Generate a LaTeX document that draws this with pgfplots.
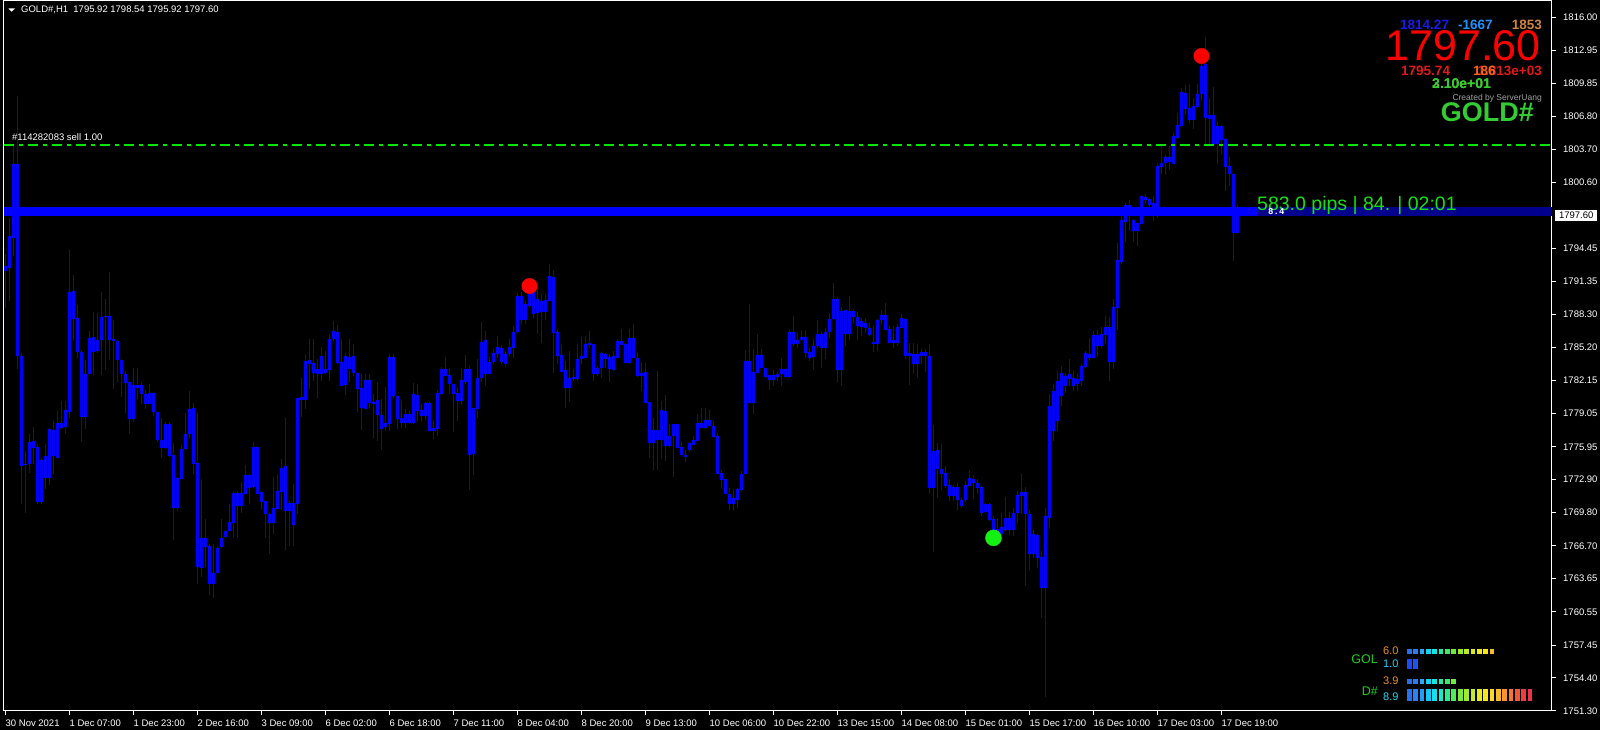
\documentclass[border=0pt]{standalone}
\usepackage{fontspec}
\setmainfont{Liberation Sans}
\newfontfamily\monofont{Liberation Mono}
\usepackage{pgfplots}
\usepackage{pgfplotstable}
\pgfplotsset{compat=1.18}
\definecolor{candle}{RGB}{0,0,255}
\definecolor{navyband}{RGB}{0,0,140}
\definecolor{mtgreen}{RGB}{50,205,50}
\definecolor{ordergreen}{RGB}{0,230,0}
\definecolor{green2}{RGB}{110,200,40}
\definecolor{pipsgreen}{RGB}{20,225,20}
\definecolor{dotgreen}{RGB}{20,240,20}
\definecolor{dodger}{RGB}{30,144,255}
\definecolor{peru}{RGB}{205,133,63}
\definecolor{blue1814}{RGB}{25,25,235}
\definecolor{red2}{RGB}{225,25,25}
\definecolor{orange186}{RGB}{250,100,20}
\definecolor{gray160}{RGB}{160,160,160}
\definecolor{lblorange}{RGB}{240,145,20}
\definecolor{lblcyan}{RGB}{30,215,245}
\definecolor{indgreen}{RGB}{30,205,30}

\pgfplotstableread{
x h l t b
0 1793.94 1788.90 1792.81 1792.35
1 1797.29 1789.56 1795.61 1792.63
2 1804.20 1793.75 1802.33 1795.43
3 1808.68 1783.22 1802.33 1784.43
4 1784.71 1770.62 1784.43 1774.17
5 1775.57 1769.78 1774.35 1774.21
6 1777.15 1773.51 1776.41 1774.35
7 1777.80 1774.35 1776.50 1775.85
8 1776.22 1770.62 1775.94 1770.81
9 1774.91 1770.62 1774.73 1770.81
10 1776.22 1772.02 1775.10 1773.05
11 1777.71 1772.39 1777.62 1773.05
12 1778.36 1773.42 1777.52 1775.10
13 1779.39 1774.91 1778.18 1774.91
14 1780.23 1777.62 1778.18 1777.71
15 1780.23 1777.15 1779.39 1777.80
16 1794.31 1778.64 1790.40 1779.20
17 1791.98 1785.83 1790.49 1787.88
18 1789.19 1784.24 1787.97 1784.80
19 1784.99 1776.41 1784.80 1778.74
20 1784.06 1777.62 1782.75 1778.74
21 1786.76 1782.75 1786.11 1782.75
22 1788.53 1782.66 1786.20 1784.80
23 1788.44 1784.71 1785.92 1784.90
24 1790.40 1782.66 1788.07 1785.92
25 1789.75 1783.12 1788.16 1788.07
26 1792.26 1784.06 1788.16 1785.92
27 1787.79 1781.35 1786.01 1785.83
28 1785.92 1782.01 1785.83 1784.06
29 1784.15 1780.60 1784.06 1782.75
30 1783.03 1779.11 1782.75 1781.91
31 1782.01 1777.15 1782.01 1778.55
32 1783.31 1778.27 1781.72 1778.55
33 1783.31 1780.42 1781.72 1781.44
34 1782.01 1779.95 1781.72 1780.88
35 1781.25 1779.48 1780.88 1779.95
36 1781.82 1779.95 1780.97 1779.95
37 1780.97 1778.83 1780.97 1779.20
38 1779.20 1776.41 1779.20 1776.59
39 1778.64 1774.91 1776.59 1775.85
40 1778.27 1775.76 1778.08 1775.85
41 1778.27 1775.01 1778.08 1775.10
42 1776.31 1767.26 1775.19 1770.25
43 1773.14 1769.97 1773.05 1770.25
44 1776.13 1772.95 1775.76 1772.95
45 1779.11 1775.66 1777.15 1775.76
46 1781.16 1776.78 1779.48 1777.15
47 1780.04 1773.42 1779.58 1774.35
48 1779.11 1763.16 1774.44 1764.74
49 1772.95 1763.81 1767.45 1764.65
50 1769.22 1764.74 1767.45 1766.61
51 1766.89 1762.13 1766.70 1763.16
52 1766.89 1761.85 1764.18 1763.16
53 1766.70 1764.18 1766.52 1764.18
54 1769.22 1766.52 1767.45 1766.61
55 1768.19 1767.45 1768.10 1767.54
56 1770.62 1768.10 1768.94 1768.10
57 1771.74 1767.54 1771.65 1768.85
58 1771.83 1767.45 1771.65 1770.43
59 1772.67 1769.78 1771.65 1770.43
60 1774.26 1771.55 1773.32 1771.55
61 1773.42 1770.62 1773.32 1772.11
62 1776.41 1772.11 1775.94 1772.21
63 1775.94 1771.55 1775.94 1771.55
64 1771.83 1770.15 1771.74 1770.81
65 1770.90 1767.45 1770.90 1769.69
66 1769.78 1765.95 1769.69 1768.85
67 1773.14 1767.82 1770.25 1768.85
68 1773.32 1770.15 1771.83 1770.15
69 1774.82 1770.06 1773.98 1771.74
70 1778.64 1766.33 1774.17 1769.97
71 1770.90 1766.70 1770.71 1769.97
72 1772.48 1766.70 1770.71 1768.66
73 1780.51 1769.69 1780.51 1770.62
74 1782.38 1778.74 1780.60 1780.32
75 1784.62 1779.48 1783.96 1780.32
76 1786.01 1781.35 1784.06 1783.68
77 1786.01 1782.10 1783.78 1782.85
78 1784.15 1780.51 1783.22 1782.75
79 1785.27 1782.10 1784.43 1782.75
80 1784.90 1782.75 1783.22 1782.85
81 1786.48 1782.10 1786.01 1783.12
82 1787.69 1785.83 1786.76 1786.01
83 1787.32 1783.68 1786.67 1783.78
84 1786.01 1781.63 1783.87 1781.63
85 1784.71 1780.79 1784.43 1781.72
86 1786.01 1782.01 1784.34 1783.22
87 1785.55 1782.57 1784.43 1782.85
88 1782.85 1779.20 1782.85 1781.35
89 1782.75 1777.52 1781.44 1779.58
90 1782.75 1779.48 1782.19 1779.48
91 1782.75 1779.48 1782.19 1780.04
92 1780.88 1776.78 1780.14 1779.95
93 1782.01 1776.50 1780.32 1778.92
94 1780.42 1775.66 1778.92 1777.62
95 1781.54 1777.43 1778.18 1777.80
96 1784.62 1777.43 1784.34 1778.08
97 1784.62 1780.51 1784.34 1780.69
98 1780.69 1777.62 1780.69 1778.55
99 1780.23 1777.71 1778.64 1778.18
100 1779.48 1777.71 1779.02 1778.18
101 1779.30 1778.08 1779.02 1778.18
102 1781.91 1778.08 1780.88 1778.18
103 1781.82 1778.36 1780.79 1779.30
104 1779.95 1778.27 1779.39 1778.83
105 1780.14 1778.55 1780.04 1778.83
106 1780.23 1777.43 1780.04 1777.43
107 1778.36 1776.69 1777.71 1777.43
108 1781.25 1776.96 1780.97 1777.62
109 1783.40 1780.79 1783.22 1780.88
110 1784.34 1782.57 1783.22 1782.57
111 1783.31 1780.88 1782.66 1781.82
112 1781.82 1777.34 1781.82 1780.88
113 1781.44 1778.36 1780.97 1780.23
114 1783.22 1779.86 1782.19 1780.23
115 1784.52 1781.82 1783.22 1782.01
116 1783.49 1771.93 1783.22 1775.19
117 1779.58 1773.32 1779.58 1775.29
118 1784.15 1778.64 1782.38 1779.48
119 1787.60 1782.01 1785.73 1782.38
120 1786.76 1781.63 1785.92 1782.75
121 1784.34 1782.75 1783.87 1782.75
122 1785.08 1783.68 1784.71 1783.87
123 1786.29 1784.24 1785.27 1784.62
124 1785.45 1783.68 1785.17 1783.87
125 1784.90 1783.40 1784.62 1783.68
126 1786.01 1784.43 1785.27 1784.62
127 1787.23 1784.24 1786.67 1785.17
128 1790.30 1786.57 1790.02 1786.67
129 1790.40 1787.51 1790.02 1787.79
130 1789.56 1787.41 1789.28 1787.79
131 1791.23 1788.90 1790.30 1789.09
132 1791.14 1787.97 1791.14 1788.34
133 1791.42 1786.48 1789.75 1788.44
134 1790.21 1785.64 1789.56 1788.53
135 1790.21 1787.79 1789.65 1788.53
136 1793.00 1789.56 1791.89 1789.56
137 1792.45 1782.85 1791.79 1786.57
138 1786.95 1783.68 1786.67 1784.43
139 1785.45 1782.94 1784.52 1782.94
140 1783.96 1779.58 1783.12 1781.44
141 1784.90 1780.14 1782.38 1781.44
142 1783.22 1782.10 1782.47 1782.29
143 1785.55 1782.10 1784.15 1782.29
144 1786.20 1783.68 1784.43 1784.15
145 1786.29 1784.24 1785.55 1784.24
146 1786.76 1785.17 1785.64 1785.45
147 1785.55 1782.10 1785.55 1782.75
148 1783.49 1782.57 1783.31 1782.75
149 1784.80 1782.38 1784.71 1783.31
150 1784.71 1783.31 1784.62 1784.15
151 1784.62 1782.01 1784.34 1783.22
152 1784.90 1783.03 1784.43 1783.12
153 1786.01 1784.24 1785.83 1784.24
154 1786.95 1785.45 1785.83 1785.45
155 1785.64 1783.78 1785.55 1783.78
156 1786.95 1783.68 1786.11 1783.78
157 1787.41 1784.24 1786.11 1784.24
158 1784.80 1782.47 1784.24 1782.57
159 1783.87 1781.16 1782.85 1782.57
160 1783.78 1780.04 1782.94 1780.04
161 1780.14 1774.91 1780.14 1776.31
162 1778.64 1773.79 1777.52 1776.31
163 1783.03 1773.79 1777.52 1776.59
164 1780.23 1774.82 1779.39 1776.59
165 1780.79 1774.63 1779.30 1776.03
166 1778.08 1775.94 1776.96 1776.03
167 1778.08 1773.14 1778.08 1776.96
168 1778.08 1775.85 1778.08 1775.85
169 1776.41 1775.19 1775.94 1775.19
170 1775.66 1774.54 1775.19 1775.01
171 1776.41 1775.47 1776.31 1775.66
172 1776.96 1776.13 1776.59 1776.13
173 1779.02 1776.50 1778.18 1776.50
174 1779.58 1777.71 1778.18 1777.71
175 1779.58 1777.62 1778.46 1777.71
176 1779.39 1777.90 1778.46 1777.90
177 1778.36 1776.78 1777.90 1776.87
178 1777.24 1773.42 1776.96 1773.42
179 1773.79 1772.11 1773.51 1772.86
180 1772.95 1771.55 1772.95 1771.55
181 1772.11 1770.06 1771.55 1770.62
182 1772.02 1769.97 1771.18 1770.62
183 1772.11 1770.25 1772.02 1770.99
184 1773.70 1771.83 1773.42 1771.93
185 1784.99 1773.42 1783.96 1773.42
186 1789.28 1780.04 1783.96 1780.04
187 1785.08 1779.02 1782.94 1780.04
188 1786.48 1782.85 1784.52 1782.85
189 1785.08 1783.31 1784.52 1783.31
190 1783.31 1782.38 1783.31 1782.47
191 1782.66 1781.25 1782.66 1782.19
192 1783.12 1781.63 1782.66 1782.19
193 1782.94 1782.10 1782.75 1782.47
194 1784.24 1781.63 1783.22 1782.75
195 1783.22 1782.38 1783.22 1782.47
196 1786.85 1782.38 1786.67 1782.47
197 1788.16 1785.36 1786.67 1785.55
198 1786.57 1785.17 1785.92 1785.55
199 1786.85 1785.83 1786.20 1785.92
200 1786.85 1784.24 1786.20 1784.71
201 1785.17 1783.96 1784.80 1784.24
202 1786.01 1783.12 1785.36 1784.34
203 1787.79 1785.17 1786.48 1785.36
204 1786.76 1783.31 1786.48 1785.17
205 1787.04 1784.15 1786.67 1785.17
206 1788.44 1786.11 1787.88 1786.67
207 1791.23 1787.79 1789.75 1787.88
208 1789.93 1782.01 1789.75 1783.12
209 1789.00 1781.63 1788.63 1783.12
210 1788.72 1785.36 1788.72 1786.48
211 1790.02 1785.92 1788.63 1786.48
212 1788.81 1787.51 1788.63 1788.07
213 1788.53 1785.92 1788.07 1787.23
214 1787.97 1786.29 1787.69 1787.13
215 1787.97 1786.57 1787.51 1787.04
216 1787.51 1786.29 1787.04 1786.39
217 1787.23 1784.80 1785.73 1785.55
218 1787.88 1784.90 1787.79 1785.55
219 1788.72 1787.32 1788.25 1787.79
220 1789.37 1786.85 1788.25 1786.85
221 1787.23 1785.64 1786.95 1785.64
222 1787.23 1785.17 1785.92 1785.64
223 1787.41 1785.36 1787.13 1785.64
224 1788.34 1787.04 1787.97 1787.04
225 1787.97 1784.15 1787.88 1784.43
226 1785.64 1781.72 1784.71 1784.43
227 1785.64 1782.75 1784.62 1783.68
228 1785.55 1782.38 1784.62 1783.68
229 1785.08 1783.68 1784.80 1784.43
230 1785.08 1782.94 1784.80 1784.43
231 1785.55 1771.55 1784.43 1772.11
232 1777.99 1766.14 1775.57 1772.11
233 1776.31 1771.18 1775.66 1773.88
234 1776.22 1771.93 1773.88 1773.42
235 1774.17 1772.11 1773.51 1772.30
236 1772.95 1770.90 1772.39 1771.36
237 1772.39 1770.90 1772.21 1771.36
238 1772.58 1770.06 1772.21 1770.99
239 1771.18 1770.25 1770.99 1770.43
240 1772.76 1770.81 1772.39 1770.99
241 1773.79 1772.21 1773.05 1772.30
242 1773.32 1771.08 1772.95 1772.58
243 1772.95 1771.55 1772.58 1772.11
244 1772.30 1769.50 1772.21 1769.78
245 1770.71 1769.78 1770.62 1769.87
246 1770.71 1769.03 1770.62 1769.13
247 1769.50 1767.63 1769.22 1767.82
248 1769.31 1767.45 1768.29 1767.82
249 1769.78 1767.73 1768.47 1767.82
250 1771.27 1768.10 1769.31 1768.19
251 1769.87 1767.73 1769.31 1768.19
252 1770.25 1767.63 1769.78 1768.19
253 1771.83 1768.85 1771.46 1769.78
254 1773.42 1769.69 1771.74 1771.36
255 1772.21 1762.97 1771.74 1769.69
256 1770.06 1764.46 1769.69 1765.95
257 1768.29 1765.58 1767.82 1765.95
258 1767.82 1764.65 1767.73 1765.58
259 1766.24 1759.98 1765.67 1762.78
260 1770.25 1752.61 1769.50 1762.78
261 1780.88 1768.29 1779.76 1769.31
262 1781.82 1776.50 1781.16 1777.43
263 1783.03 1777.43 1782.10 1778.36
264 1783.49 1779.76 1782.85 1780.69
265 1782.85 1780.97 1782.57 1781.63
266 1784.15 1781.63 1782.75 1782.29
267 1783.03 1781.16 1782.38 1781.63
268 1782.85 1781.16 1782.29 1781.82
269 1783.68 1781.63 1783.49 1782.10
270 1784.90 1783.31 1784.71 1783.40
271 1786.11 1783.96 1784.62 1784.24
272 1786.76 1784.24 1786.39 1784.24
273 1786.85 1784.43 1786.39 1785.36
274 1787.13 1785.17 1786.48 1785.36
275 1788.16 1785.64 1787.13 1786.39
276 1788.07 1782.10 1787.13 1783.87
277 1789.75 1783.22 1789.00 1783.87
278 1794.98 1786.85 1793.37 1788.90
279 1797.95 1793.00 1797.11 1793.18
280 1798.69 1795.06 1798.51 1796.92
281 1798.98 1796.18 1798.51 1797.76
282 1797.20 1795.06 1797.11 1796.08
283 1796.83 1794.69 1796.83 1796.08
284 1799.44 1796.73 1799.35 1796.73
285 1799.54 1798.60 1799.25 1798.98
286 1799.16 1797.67 1799.07 1798.51
287 1799.35 1797.02 1798.69 1798.32
288 1802.43 1797.29 1802.15 1798.32
289 1804.20 1801.40 1802.43 1802.06
290 1803.27 1801.31 1802.99 1802.43
291 1804.01 1801.77 1802.99 1802.52
292 1805.23 1802.33 1804.95 1802.33
293 1807.09 1804.67 1805.97 1804.76
294 1809.42 1805.79 1809.05 1805.88
295 1809.70 1807.00 1808.96 1807.46
296 1809.80 1806.16 1807.56 1806.44
297 1808.49 1805.60 1807.75 1806.44
298 1809.80 1807.56 1808.86 1807.65
299 1811.76 1808.21 1811.48 1808.86
300 1814.18 1804.20 1811.66 1806.63
301 1808.49 1804.01 1806.91 1806.53
302 1809.52 1804.20 1806.91 1804.20
303 1806.35 1802.33 1805.88 1804.20
304 1805.97 1803.27 1805.88 1804.57
305 1804.76 1799.82 1804.67 1802.06
306 1803.00 1800.28 1802.15 1801.40
307 1801.40 1793.29 1801.40 1795.90
308 1798.54 1795.92 1797.60 1795.92
}\candles

\begin{document}
\begin{tikzpicture}[x=1pt,y=1pt]
\fill[black] (0,0) rectangle (1600,730);
\useasboundingbox (0,0) rectangle (1600,730);
\begin{axis}[
  at={(4pt,19pt)}, anchor=south west,
  scale only axis, width=1548pt, height=710pt,
  xmin=-0.375, xmax=386.625, ymin=1751.30, ymax=1817.54,
  axis line style={white, line width=1pt},
  tick style={white, line width=1pt},
  major tick length=4pt, tick align=outside,
  xtick pos=left, ytick pos=right,
  xticklabel pos=left, yticklabel pos=right,
  tick label style={font=\fontsize{9.5}{11}\selectfont, text=white},
  yticklabel style={anchor=west, inner sep=0pt, xshift=7pt},
  xticklabel style={anchor=north west, inner sep=0pt, xshift=0pt, yshift=-5pt},
  xtick={0,16,32,48,64,80,96,112,128,144,160,176,192,208,224,240,256,272,288,304},
  xticklabels={30 Nov 2021, 1 Dec 07:00, 1 Dec 23:00, 2 Dec 16:00, 3 Dec 09:00, 6 Dec 02:00, 6 Dec 18:00, 7 Dec 11:00, 8 Dec 04:00, 8 Dec 20:00, 9 Dec 13:00, 10 Dec 06:00, 10 Dec 22:00, 13 Dec 15:00, 14 Dec 08:00, 15 Dec 01:00, 15 Dec 17:00, 16 Dec 10:00, 17 Dec 03:00, 17 Dec 19:00},
  ytick={1751.30,1754.40,1757.45,1760.55,1763.65,1766.70,1769.80,1772.90,1775.95,1779.05,1782.15,1785.20,1788.30,1791.35,1794.45,1800.60,1803.70,1806.80,1809.85,1812.95,1816.00},
  yticklabels={1751.30,1754.40,1757.45,1760.55,1763.65,1766.70,1769.80,1772.90,1775.95,1779.05,1782.15,1785.20,1788.30,1791.35,1794.45,1800.60,1803.70,1806.80,1809.85,1812.95,1816.00},
]
% wicks
\addplot[draw=none, mark=none, forget plot,
  error bars/.cd, y dir=plus, y explicit, error mark=none,
  error bar style={draw=candle, line width=1pt, solid}]
  table[x=x, y=l, y error plus expr=\thisrow{h}-\thisrow{l}] {\candles};
% bodies
\addplot[draw=none, mark=none, forget plot,
  error bars/.cd, y dir=plus, y explicit, error mark=none,
  error bar style={draw=candle, line width=3pt, solid}]
  table[x=x, y=b, y error plus expr=\thisrow{t}-\thisrow{b}] {\candles};
% bid band
\addplot[draw=candle, line width=9pt, forget plot] coordinates {(-0.375,1797.86) (312.9,1797.86)};
\addplot[draw=navyband, line width=9pt, forget plot] coordinates {(312.9,1797.86) (386.625,1797.86)};
% order line
\addplot[ordergreen, solid, line width=2pt, dash pattern=on 10pt off 5pt on 4pt off 5pt, forget plot] coordinates {(-0.375,1804.15) (386.625,1804.15)};
% signal dots
\addplot[only marks, mark=*, mark size=7.7pt, draw=red, fill=red] coordinates {(131,1790.95) (299,1812.41)};
\addplot[only marks, mark=*, mark size=8pt, draw=dotgreen, fill=dotgreen] coordinates {(247,1767.45)};
\end{axis}
% header
\fill[white] (8.3,721.7) -- (15,721.7) -- (11.65,718.3) -- cycle;
\node[anchor=base west, inner sep=0pt, text=white, font=\fontsize{9.5}{11}\selectfont] at (21,717.3) {GOLD\#,H1\ \ 1795.92 1798.54 1795.92 1797.60};
\node[anchor=base west, inner sep=0pt, text=white, font=\fontsize{9.5}{11}\selectfont] at (12,589.3) {\#114282083 sell 1.00};
% top right panel
\node[anchor=base west, inner sep=0pt, text=blue1814, font=\bfseries\fontsize{13.5}{15}\selectfont] at (1400,700.7) {1814.27};
\node[anchor=base west, inner sep=0pt, text=dodger, font=\bfseries\fontsize{13.5}{15}\selectfont] at (1458,700.7) {-1667};
\node[anchor=base east, inner sep=0pt, text=peru, font=\bfseries\fontsize{13.5}{15}\selectfont] at (1542,700.7) {1853};
\node[anchor=base east, inner sep=0pt, text=red, font=\fontsize{43}{47}\selectfont] at (1541,669) {1797.60};
\node[anchor=base west, inner sep=0pt, text=red2, font=\bfseries\fontsize{13.5}{15}\selectfont] at (1401,654) {1795.74};
\node[anchor=base east, inner sep=0pt, text=red2, font=\bfseries\fontsize{13.5}{15}\selectfont] at (1542,654) {1.813e+03};
\node[anchor=base west, inner sep=0pt, text=orange186, font=\bfseries\fontsize{13.5}{15}\selectfont] at (1473,654) {186};
\node[anchor=base west, inner sep=0pt, text=green2, font=\bfseries\fontsize{14}{15}\selectfont] at (1432,641.7) {3.10e+01};
\node[anchor=base west, inner sep=0pt, text=mtgreen, font=\bfseries\fontsize{14}{15}\selectfont] at (1432,641.7) {2.10e+01};
\node[anchor=base east, inner sep=0pt, text=gray160, font=\fontsize{8.5}{10}\selectfont] at (1542,629) {Created by ServerUang};
\node[anchor=base east, inner sep=0pt, text=mtgreen, font=\bfseries\fontsize{27}{30}\selectfont] at (1534,608.3) {GOLD\#};
% bid labels
\node[anchor=base west, inner sep=0pt, text=pipsgreen, font=\fontsize{19.5}{22}\selectfont] at (1257,519.5) {583.0 pips | 84. | 02:01};
\node[anchor=base west, inner sep=0pt, text=white, font=\monofont\bfseries\fontsize{9}{10}\selectfont] at (1268,515) {8.4};
\node[anchor=west, fill=white, text=black, inner sep=0pt, minimum width=42pt, minimum height=11pt, font=\fontsize{9.5}{11}\selectfont] at (1555,514.5) {1797.60};
% bottom-right indicator
\node[anchor=base east, inner sep=0pt, text=indgreen, font=\fontsize{12.5}{14}\selectfont] at (1378,66) {GOL};
\node[anchor=base east, inner sep=0pt, text=indgreen, font=\fontsize{12.5}{14}\selectfont] at (1378,34) {D\#};
\node[anchor=base west, inner sep=0pt, text=lblorange, font=\fontsize{11}{13}\selectfont] at (1383,75.7) {6.0};
\node[anchor=base west, inner sep=0pt, text=lblcyan, font=\fontsize{11}{13}\selectfont] at (1383,62.7) {1.0};
\node[anchor=base west, inner sep=0pt, text=lblorange, font=\fontsize{11}{13}\selectfont] at (1383,45.3) {3.9};
\node[anchor=base west, inner sep=0pt, text=lblcyan, font=\fontsize{11}{13}\selectfont] at (1383,29) {8.9};
\foreach \r/\g/\b [count=\k from 0] in {40/110/240,40/125/250,40/170/250,20/210/250,20/230/220,30/235/160,60/235/100,110/235/60,150/235/50,190/235/40,220/235/30,240/235/30,250/230/20,245/190/40}{
  \definecolor{tmpc}{RGB}{\r,\g,\b}
  \fill[tmpc] ({1407+6.35*\k},76.3) rectangle ++(4.7,4.7);
}
\fill[blue1814!60!dodger] (1407,61.3) rectangle ++(4.7,9.4);
\fill[blue1814!50!dodger] (1413.3,61.3) rectangle ++(4.7,9.4);
\foreach \r/\g/\b [count=\k from 0] in {40/110/240,40/125/250,40/170/250,20/210/250,20/230/220,30/235/160,60/235/100,110/235/60}{
  \definecolor{tmpc}{RGB}{\r,\g,\b}
  \fill[tmpc] ({1407+6.35*\k},46.3) rectangle ++(4.7,4.4);
}
\foreach \r/\g/\b [count=\k from 0] in {40/110/240,40/130/250,30/160/250,20/200/250,20/225/235,20/235/200,40/235/140,80/235/90,120/235/60,160/235/50,200/235/40,230/235/30,250/230/30,250/215/40,250/185/40,250/150/45,250/115/50,245/85/55,240/60/60,240/50/70}{
  \definecolor{tmpc}{RGB}{\r,\g,\b}
  \fill[tmpc] ({1407+6.35*\k},29) rectangle ++(4.7,12);
}
\end{tikzpicture}
\end{document}
